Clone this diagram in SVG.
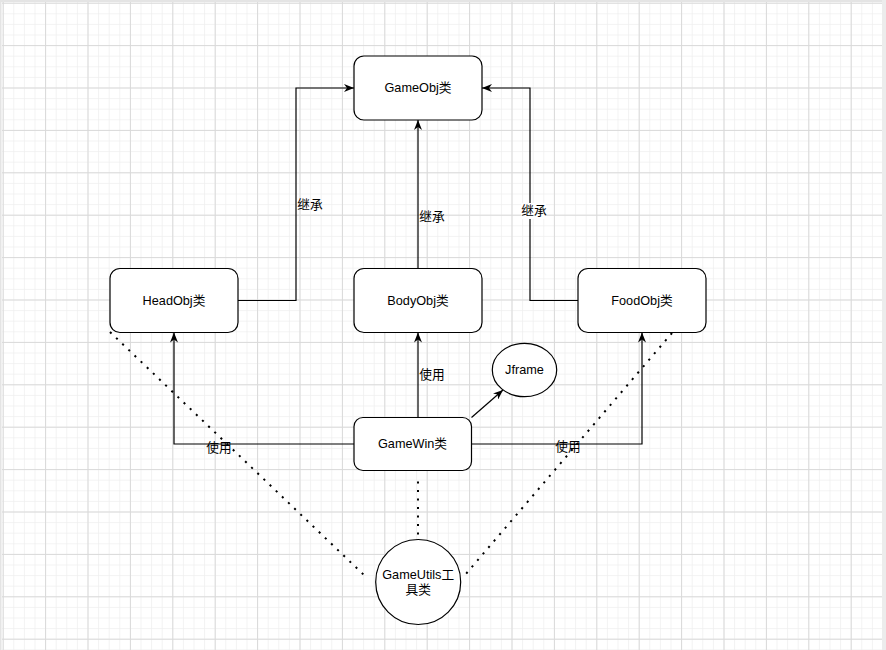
<svg xmlns="http://www.w3.org/2000/svg" width="886" height="650" viewBox="0 0 886 650">
<style>
.node{fill:#fff;stroke:#000;stroke-width:1.2}
.lbl{font-family:"Liberation Sans","Noto Sans CJK SC",sans-serif;font-size:12.7px;fill:#000;text-anchor:middle;dominant-baseline:central}
.edge{fill:none;stroke:#000;stroke-width:1.2}
.dot{fill:none;stroke:#000;stroke-width:2;stroke-dasharray:2.1 6.4}
.elbl{fill:#fff}
</style>
<defs>
<pattern id="minor" patternUnits="userSpaceOnUse" x="2.7" y="2.7" width="10.6" height="10.6">
<path d="M0,0 H10.6 M0,0 V10.6" stroke="#efefef" stroke-width="1.5" fill="none"/>
</pattern>
<pattern id="major" patternUnits="userSpaceOnUse" x="2.7" y="2.7" width="42.4" height="42.4">
<path d="M0,0.5 H42.4 M0.5,0 V42.4" stroke="#d9d9d9" stroke-width="1" fill="none"/>
</pattern>
<marker id="arr" viewBox="0 0 10 8" refX="10" refY="4" markerWidth="10" markerHeight="8" markerUnits="userSpaceOnUse" orient="auto">
<path d="M0,0 L10,4 L0,8 L3,4 Z" fill="#000"/>
</marker>
</defs>
<rect width="886" height="650" fill="#fff"/>
<rect x="2" y="2" width="880" height="648" fill="url(#minor)"/>
<rect x="2" y="2" width="880" height="648" fill="url(#major)"/>
<rect x="0" y="0" width="886" height="2" fill="#e4e4e4"/>
<rect x="0" y="0" width="1.5" height="650" fill="#e4e4e4"/>
<rect x="882" y="0" width="4" height="650" fill="#ececec"/>

<g id="connectors">
<path class="edge" d="M238,300.5 H296 V88 H354" marker-end="url(#arr)"/>
<path class="edge" d="M418,268.5 V120" marker-end="url(#arr)"/>
<path class="edge" d="M578,300.5 H530 V88 H482" marker-end="url(#arr)"/>
<path class="edge" d="M418,417.5 V332.5" marker-end="url(#arr)"/>
<path class="edge" d="M354,444 H174 V332.5" marker-end="url(#arr)"/>
<path class="edge" d="M471.5,444 H642 V332.5" marker-end="url(#arr)"/>
<path class="edge" d="M471.5,417.5 L503,390" marker-end="url(#arr)"/>
<path class="dot" d="M418,481.5 V536"/>
<path class="dot" d="M110,332 L364,575"/>
<path class="dot" d="M672,333 L465,575"/>
<rect class="elbl" x="521" y="203" width="25" height="16"/>
<text class="lbl" x="310" y="205">继承</text>
<text class="lbl" x="432" y="217">继承</text>
<text class="lbl" x="534" y="211">继承</text>
<text class="lbl" x="432" y="375">使用</text>
<text class="lbl" x="219" y="448">使用</text>
<text class="lbl" x="568" y="447">使用</text>
</g>

<g id="GameObj">
<rect class="node" x="354" y="56" width="128" height="64" rx="10"/>
<text class="lbl" x="418" y="88">GameObj类</text>
</g>
<g id="HeadObj">
<rect class="node" x="110" y="268.5" width="128" height="64" rx="10"/>
<text class="lbl" x="174" y="300.5">HeadObj类</text>
</g>
<g id="BodyObj">
<rect class="node" x="354" y="268.5" width="128" height="64" rx="10"/>
<text class="lbl" x="418" y="300.5">BodyObj类</text>
</g>
<g id="FoodObj">
<rect class="node" x="578" y="268.5" width="128" height="64" rx="10"/>
<text class="lbl" x="642" y="300.5">FoodObj类</text>
</g>
<g id="GameWin">
<rect class="node" x="354" y="417.5" width="117.5" height="53" rx="9"/>
<text class="lbl" x="412.5" y="444">GameWin类</text>
</g>
<g id="Jframe">
<ellipse class="node" cx="524.5" cy="370" rx="32.2" ry="26.7"/>
<text class="lbl" x="524.5" y="370">Jframe</text>
</g>
<g id="GameUtils">
<circle class="node" cx="418.2" cy="582" r="42.5"/>
<text class="lbl" x="418.2" y="575">GameUtils工</text>
<text class="lbl" x="418.2" y="590">具类</text>
</g>
</svg>
